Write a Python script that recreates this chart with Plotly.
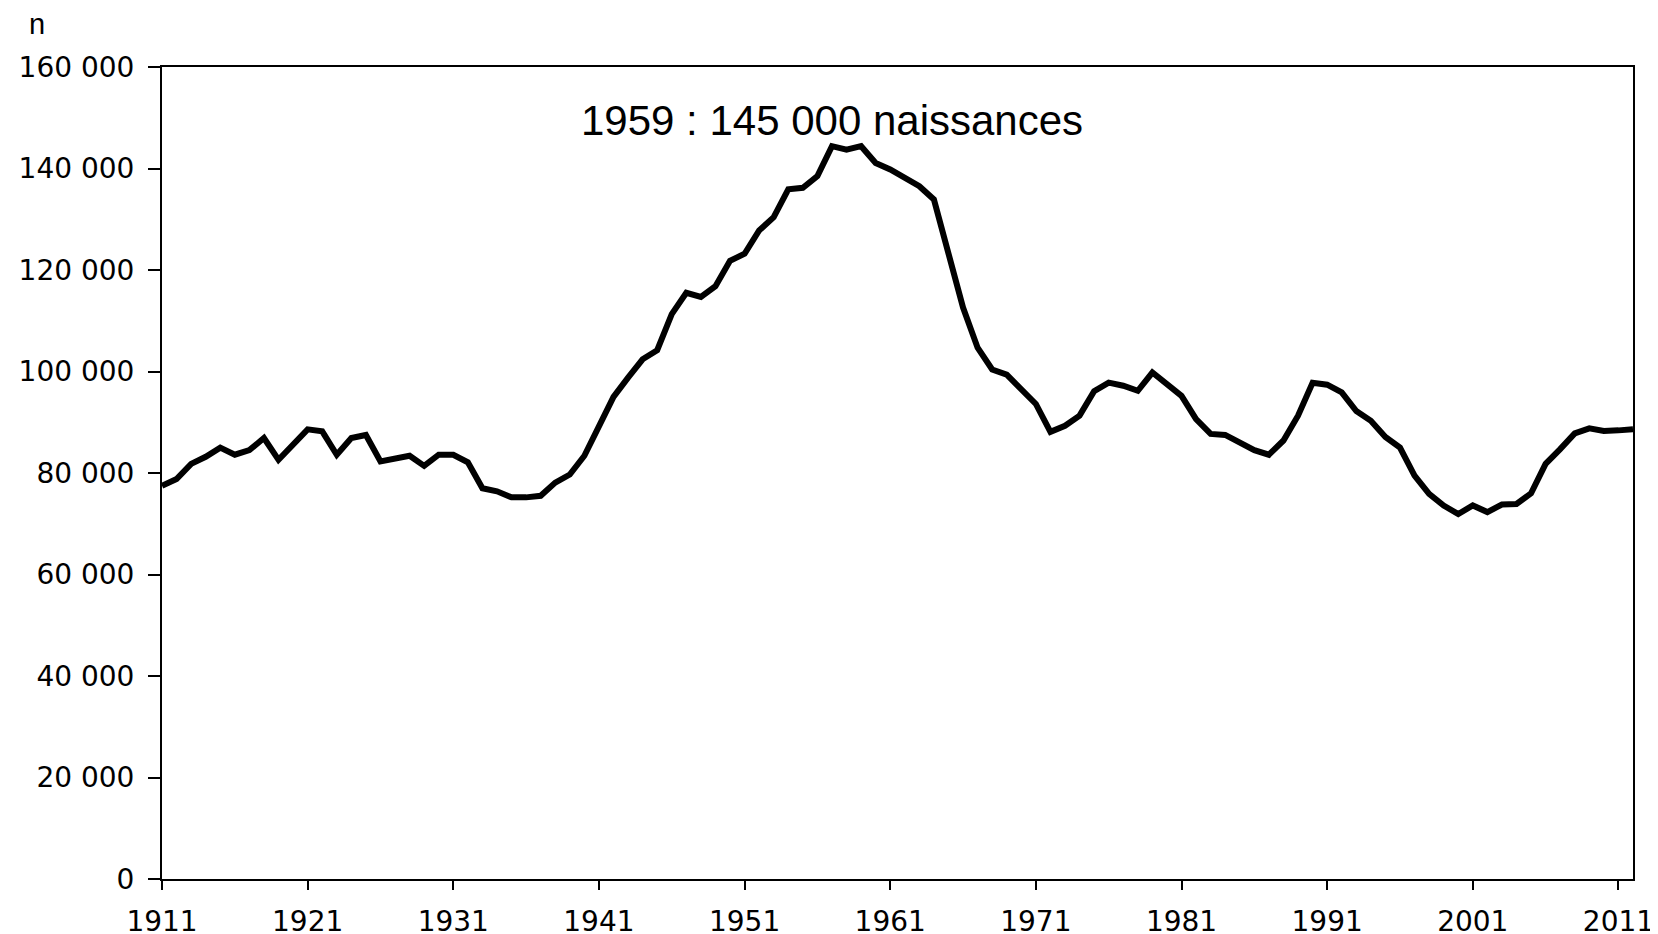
import plotly.graph_objects as go

years = list(range(1911, 2013))
births = [
    77500, 78800, 81800, 83200, 85000, 83600, 84500, 86900, 82600, 85400,   # 1911-1920
    88600, 88200, 83600, 86900, 87500, 82300, 82900, 83400, 81400, 83600,   # 1921-1930
    83600, 82100, 77000, 76400, 75200, 75200, 75500, 78100, 79700, 83400,   # 1931-1940
    89200, 95000, 98800, 102400, 104200, 111300, 115500, 114700, 116800, 121800,  # 1941-1950
    123200, 127800, 130400, 135900, 136200, 138500, 144400, 143700, 144400, 141100,  # 1951-1960
    139800, 138100, 136500, 133900, 123100, 112600, 104700, 100400, 99400, 96500,  # 1961-1970
    93600, 88100, 89300, 91300, 96100, 97800, 97200, 96200, 99800, 97500,   # 1971-1980
    95200, 90600, 87700, 87500, 86000, 84500, 83600, 86400, 91300, 97800,   # 1981-1990
    97400, 95900, 92200, 90300, 87100, 85000, 79500, 75900, 73600, 71900,   # 1991-2000
    73600, 72300, 73800, 73900, 76000, 81800, 84700, 87800, 88800, 88300,   # 2001-2010
    88400, 88600,                                                           # 2011-2012
]
x_ticks = [1911, 1921, 1931, 1941, 1951, 1961, 1971, 1981, 1991, 2001, 2011]
y_ticks = [0, 20000, 40000, 60000, 80000, 100000, 120000, 140000, 160000]
peak_label = "1959 : 145 000 naissances"
y_unit = "n"

# page body has an 8px margin: shift everything up/left by 8px
OFF = 8
W, H = 1658 - OFF, 934 - OFF
ml, mr, mt, mb = 162 - OFF, 25, 67 - OFF, 55
font = "Liberation Sans, Arial, sans-serif"
tick_font = "DejaVu Sans, sans-serif"

fig = go.Figure()
fig.add_trace(go.Scatter(
    x=years, y=births, mode="lines",
    line=dict(color="black", width=6),
    hoverinfo="x+y",
))

fig.add_annotation(
    x=1957, y=149400, xref="x", yref="y",
    text=peak_label, showarrow=False,
    font=dict(family=font, size=42, color="black"),
    xanchor="center", yanchor="middle",
)
fig.add_annotation(
    x=(37 - OFF - ml) / (W - ml - mr), y=1 + (mt - (24 - OFF)) / (H - mt - mb),
    xref="paper", yref="paper",
    text=y_unit, showarrow=False,
    font=dict(family=font, size=29, color="black"),
    xanchor="center", yanchor="middle",
)

fig.update_layout(
    width=W, height=H,
    margin=dict(l=ml, r=mr, t=mt, b=mb, pad=0),
    paper_bgcolor="white", plot_bgcolor="white",
    showlegend=False,
    separators=", ",
    font=dict(family=tick_font, size=28, color="black"),
)
fig.update_xaxes(
    range=[1911, 2012], tickvals=x_ticks,
    showgrid=False, zeroline=False,
    showline=True, linecolor="black", linewidth=2, mirror=True,
    ticks="outside", ticklen=9, tickwidth=1.5, tickcolor="black",
    tickfont=dict(family=tick_font, size=28, color="black"),
    ticklabelstandoff=7, automargin=False, ticklabeloverflow="allow",
)
fig.update_yaxes(
    range=[0, 160000], tickvals=y_ticks, tickformat=",d",
    showgrid=False, zeroline=False,
    showline=True, linecolor="black", linewidth=2, mirror=True,
    ticks="outside", ticklen=12, tickwidth=1.5, tickcolor="black",
    tickfont=dict(family=tick_font, size=28, color="black"),
    ticklabelstandoff=8, automargin=False, ticklabeloverflow="allow",
)

fig.write_html("out.html")
